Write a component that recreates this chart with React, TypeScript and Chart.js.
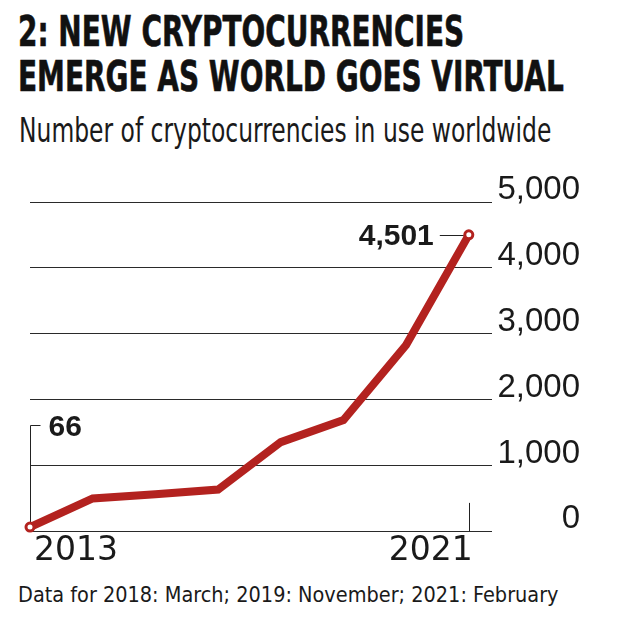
import React, { useEffect, useLayoutEffect, useRef, useState } from 'react';
import { Chart, registerables } from 'chart.js';

Chart.register(...registerables);

// ---- data ----
const TITLE_LINES = ['2: NEW CRYPTOCURRENCIES', 'EMERGE AS WORLD GOES VIRTUAL'];
const SUBTITLE = 'Number of cryptocurrencies in use worldwide';
const FOOTNOTE = 'Data for 2018: March; 2019: November; 2021: February';
const years = ['2013', '2014', '2015', '2016', '2017', '2018', '2019', '2021'];
const counts = [66, 500, 565, 635, 1355, 1690, 2830, 4501];
const yTickValues = [0, 1000, 2000, 3000, 4000, 5000];

const RED = '#b3221f';
const INK = '#1a1a1a';
const NARROW = '"Liberation Sans Narrow", "DejaVu Sans Condensed", "Liberation Sans", Arial, sans-serif';
const fmt = (v: number) => v.toLocaleString('en-US');

type FitProps = { text: string; left: number; top: number; width: number; size: number; weight: string | number; family: string; color: string; stroke?: number };

function FitText({ text, left, top, width, size, weight, family, color, stroke }: FitProps) {
  const ref = useRef<HTMLDivElement>(null);
  const [sx, setSx] = useState(1);
  useLayoutEffect(() => {
    if (ref.current) setSx(width / ref.current.offsetWidth);
  }, [text, width, size, family]);
  return (
    <div
      ref={ref}
      style={{
        position: 'absolute',
        left,
        top,
        whiteSpace: 'nowrap',
        fontSize: size,
        lineHeight: `${size}px`,
        fontWeight: weight as any,
        fontFamily: family,
        color,
        WebkitTextStroke: stroke ? `${stroke}px ${color}` : undefined,
        transform: `scaleX(${sx})`,
        transformOrigin: '0 0',
      }}
    >
      {text}
    </div>
  );
}

const annotatePlugin = {
  id: 'annotate',
  beforeDatasetsDraw(chart: any) {
    const { ctx, chartArea } = chart;
    const x = chart.scales.x;
    const y = chart.scales.y;
    const n = counts.length - 1;
    const x0 = Math.round(x.getPixelForValue(0)) + 0.5;
    const y0 = y.getPixelForValue(counts[0]);
    const xn = x.getPixelForValue(n);
    const yn = y.getPixelForValue(counts[n]);
    const ly = Math.round(y0 - 102) + 0.5;
    ctx.save();
    ctx.strokeStyle = '#222';
    ctx.lineWidth = 1;
    // leader for first value
    ctx.beginPath();
    ctx.moveTo(x0, y0);
    ctx.lineTo(x0, ly);
    ctx.lineTo(x0 + 10, ly);
    ctx.stroke();
    // leader for last value
    const lyn = Math.round(yn) + 0.5;
    ctx.beginPath();
    ctx.moveTo(xn - 29, lyn);
    ctx.lineTo(xn - 5, lyn);
    ctx.stroke();
    // tick mark at last category
    const xt = Math.round(xn) + 0.5;
    ctx.beginPath();
    ctx.moveTo(xt, chartArea.bottom);
    ctx.lineTo(xt, chartArea.bottom - 28.5);
    ctx.stroke();
    // value labels
    ctx.fillStyle = INK;
    ctx.font = 'bold 30px "Liberation Sans", Arial, sans-serif';
    ctx.textBaseline = 'middle';
    ctx.textAlign = 'left';
    ctx.fillText(fmt(counts[0]), x0 + 18, ly + 2.7);
    ctx.textAlign = 'right';
    ctx.fillText(fmt(counts[n]), xn - 35, yn + 1.5);
    ctx.restore();
  },
};

function LineChart() {
  const canvasRef = useRef<HTMLCanvasElement>(null);
  useEffect(() => {
    if (!canvasRef.current) return;
    const n = counts.length;
    const chart = new Chart(canvasRef.current, {
      type: 'line',
      data: {
        datasets: [
          {
            data: counts.map((v, i) => ({ x: i, y: v })),
            borderColor: RED,
            borderWidth: 8,
            tension: 0,
            fill: false,
            clip: false as any,
            pointRadius: counts.map((_, i) => (i === 0 || i === n - 1 ? 4 : 0)),
            pointBackgroundColor: '#ffffff',
            pointBorderColor: RED,
            pointBorderWidth: 3,
            pointHoverRadius: 0,
          },
        ],
      },
      options: {
        animation: false,
        responsive: false,
        devicePixelRatio: 1,
        events: [],
        layout: { padding: { left: 30, top: 32, right: 40, bottom: 9 } },
        plugins: { legend: { display: false }, tooltip: { enabled: false }, title: { display: false } },
        scales: {
          x: {
            type: 'linear',
            min: 0,
            max: 7.37,
            grid: { display: false, drawTicks: false },
            border: { display: false },
            afterBuildTicks: (scale: any) => {
              scale.ticks = [{ value: 0 }, { value: years.length - 1 }];
            },
            ticks: {
              autoSkip: false,
              maxRotation: 0,
              align: 'inner',
              padding: 0,
              labelOffset: 4,
              color: INK,
              font: { family: '"DejaVu Sans", sans-serif', size: 33, lineHeight: 1.2 },
              callback: (v: any) => years[Math.round(Number(v))] ?? '',
            },
          },
          y: {
            position: 'right',
            min: 0,
            max: 5000,
            afterBuildTicks: (scale: any) => {
              scale.ticks = yTickValues.map((v) => ({ value: v }));
            },
            afterFit: (scale: any) => {
              scale.width = 88;
            },
            grid: { color: '#2a2a2a', lineWidth: 1, drawTicks: false },
            border: { display: false },
            ticks: {
              crossAlign: 'far',
              padding: 0,
              labelOffset: -12,
              color: INK,
              font: { family: '"Liberation Sans", Arial, sans-serif', size: 33, lineHeight: 1.2 },
              callback: (v: any) => fmt(Number(v)),
            },
          },
        },
      } as any,
      plugins: [annotatePlugin],
    });
    return () => chart.destroy();
  }, []);
  return (
    <canvas
      ref={canvasRef}
      width={620}
      height={410}
      style={{ position: 'absolute', left: 0, top: 170, width: 620, height: 410 }}
    />
  );
}

export default function App() {
  return (
    <div style={{ position: 'absolute', left: 0, top: 0, width: 620, height: 625, background: '#ffffff', overflow: 'hidden' }}>
      <FitText text={TITLE_LINES[0]} left={18} top={11} width={446} size={42} weight="bold" family={NARROW} color="#111" stroke={0.6} />
      <FitText text={TITLE_LINES[1]} left={18} top={56} width={546} size={42} weight="bold" family={NARROW} color="#111" stroke={0.6} />
      <FitText text={SUBTITLE} left={19} top={114} width={532} size={33} weight="normal" family={NARROW} color={INK} />
      <LineChart />
      <FitText text={FOOTNOTE} left={18} top={585} width={541} size={21} weight="normal" family={NARROW} color={INK} />
    </div>
  );
}
